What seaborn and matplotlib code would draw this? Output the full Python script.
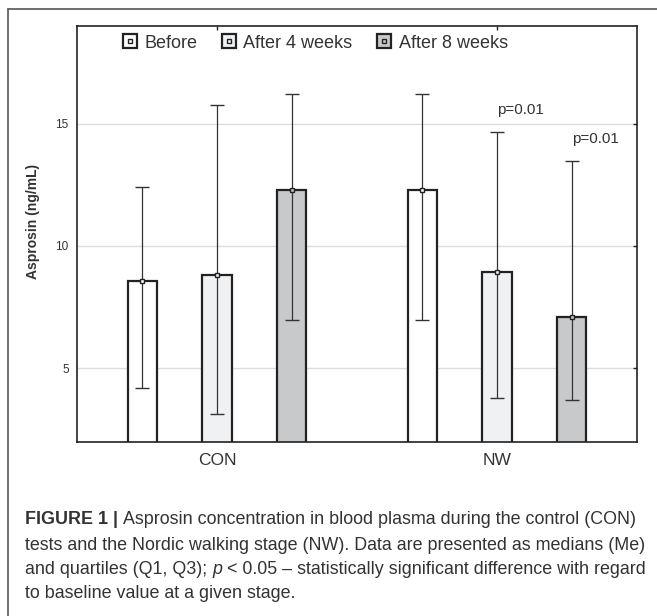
import numpy as np
import pandas as pd
import matplotlib
matplotlib.use("Agg")
import matplotlib.pyplot as plt
import seaborn as sns
from matplotlib.lines import Line2D
from matplotlib.legend_handler import HandlerTuple

# values (medians and quartiles, ng/mL)
groups = ["CON", "NW"]
stages = ["Before", "After 4 weeks", "After 8 weeks"]
median = {"Before": [8.57, 12.29], "After 4 weeks": [8.81, 8.95], "After 8 weeks": [12.29, 7.11]}
q1 = {"Before": [4.18, 6.99], "After 4 weeks": [3.14, 3.77], "After 8 weeks": [6.99, 3.69]}
q3 = {"Before": [12.41, 16.2], "After 4 weeks": [15.75, 14.66], "After 8 weeks": [16.19, 13.47]}
pvals = {"After 4 weeks": [None, "p=0.01"], "After 8 weeks": [None, "p=0.01"]}
yticks = [5, 10, 15]

colors = {"Before": "#ffffff", "After 4 weeks": "#f0f1f2", "After 8 weeks": "#c8c9cb"}
dark = "#222222"
txt = "#333333"

rows = []
for s in stages:
    for g, m in zip(groups, median[s]):
        rows.append({"group": g, "stage": s, "median": m})
df = pd.DataFrame(rows)

sns.set_theme(style="white")
plt.rcParams["font.family"] = ["Liberation Sans", "DejaVu Sans"]

fig = plt.figure(figsize=(6.57, 6.16), dpi=100)
ax = fig.add_axes([77 / 657, 1 - 441.7 / 616, 560 / 657, 416 / 616])

sns.barplot(data=df, x="group", y="median", hue="stage", order=groups, hue_order=stages,
            palette=colors, errorbar=None, width=0.8, gap=0.61, edgecolor=dark,
            linewidth=1.6, legend=False, ax=ax)

for s, cont in zip(stages, ax.containers):
    for j, bar in enumerate(cont):
        x = bar.get_x() + bar.get_width() / 2
        m = median[s][j]
        ax.errorbar(x, m, yerr=[[m - q1[s][j]], [q3[s][j] - m]], fmt="s", ms=3.5,
                    mfc=colors[s], mec=dark, mew=1.0, ecolor="#333333", elinewidth=0.9,
                    capsize=5, capthick=0.9, zorder=5)
        if s in pvals and pvals[s][j]:
            ax.text(x, q3[s][j] + 0.9, pvals[s][j], ha="left", va="center",
                    fontsize=11, color=txt)

ax.set_ylim(2, 19)
ax.set_xlim(-0.5, 1.5)
ax.set_yticks(yticks)
ax.set_yticklabels([str(v) for v in yticks], fontsize=8.5, color=txt)
ax.set_xticks(range(len(groups)))
ax.set_xticklabels(groups, fontsize=12.5, color=txt)
ax.grid(axis="y", color="#dcdcdc", lw=1.0)
ax.set_axisbelow(True)
ax.tick_params(direction="in", top=True, right=True, length=3, width=1, color=dark)
ax.tick_params(axis="y", pad=6)
ax.tick_params(axis="x", pad=8)
for sp in ax.spines.values():
    sp.set_visible(True)
    sp.set_color(dark)
    sp.set_linewidth(1.2)
ax.set_xlabel("")
ax.set_ylabel("Asprosin (ng/mL)", fontsize=10, fontweight="bold", color=txt)
ax.yaxis.set_label_coords(-0.066, 0.53)

handles = []
for s in stages:
    outer = Line2D([], [], ls="", marker="s", ms=10, mfc=colors[s], mec=dark, mew=1.6)
    inner = Line2D([], [], ls="", marker="s", ms=3.5, mfc=colors[s], mec=dark, mew=1.0)
    handles.append((outer, inner))
ax.legend(handles, stages, handler_map={tuple: HandlerTuple(ndivide=1, pad=0)},
          loc="center left", bbox_to_anchor=(0.080, 0.958), ncol=3, frameon=False,
          fontsize=13, handlelength=0.9, handletextpad=0.35, columnspacing=1.3,
          borderpad=0, borderaxespad=0, labelcolor=txt)

# outer frame (top and left edges only)
fig.add_artist(Line2D([8 / 657, 1], [1 - 9 / 616, 1 - 9 / 616], color="#555555", lw=1.2))
fig.add_artist(Line2D([8 / 657, 8 / 657], [0, 1 - 9 / 616], color="#555555", lw=1.2))

# caption
cap_fs = 12.9
x0 = 25 / 657
ys = [520, 545, 569, 593]
t = fig.text(x0, 1 - ys[0] / 616, "FIGURE 1 | ", fontsize=cap_fs, fontweight="bold",
             color=txt, va="center")
ax.annotate("Asprosin concentration in blood plasma during the control (CON)",
            xy=(1, 0.5), xycoords=t, va="center", fontsize=cap_fs, color=txt,
            annotation_clip=False)
fig.text(x0, 1 - ys[1] / 616,
         "tests and the Nordic walking stage (NW). Data are presented as medians (Me)",
         fontsize=cap_fs, color=txt, va="center")
t3 = fig.text(x0, 1 - ys[2] / 616, "and quartiles (Q1, Q3); ", fontsize=cap_fs,
              color=txt, va="center")
t4 = ax.annotate("p", xy=(1, 0.5), xycoords=t3, va="center", fontsize=cap_fs,
                 style="italic", color=txt, annotation_clip=False)
ax.annotate(" < 0.05 \u2013 statistically significant difference with regard",
            xy=(1, 0.5), xycoords=t4, va="center", fontsize=cap_fs, color=txt,
            annotation_clip=False)
fig.text(x0, 1 - ys[3] / 616, "to baseline value at a given stage.",
         fontsize=cap_fs, color=txt, va="center")

fig.savefig("out.png", dpi=100)
